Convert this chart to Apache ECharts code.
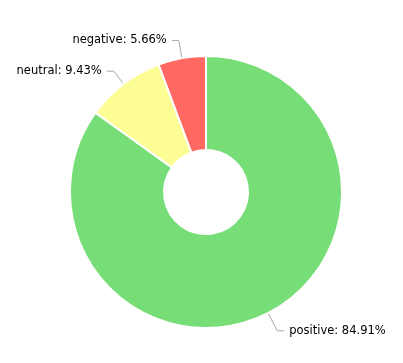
<!DOCTYPE html>
<html><head><meta charset="utf-8">
<script src="https://cdn.jsdelivr.net/npm/echarts@6/dist/echarts.min.js"></script>
<style>html,body{margin:0;padding:0;background:#fff}#c{width:403px;height:363px}</style>
</head><body><div id="c"></div>
<script>
const categories = ['positive', 'neutral', 'negative'];
const values = [45, 5, 3];
const colors = ['#77DD77', '#FDFD96', '#FF6961'];
const lineLengths = [20, 16, 18];
const chart = echarts.init(document.getElementById('c'));
chart.setOption({
  animation: false,
  series: [{
    type: 'pie',
    center: [206, 192],
    radius: [42, 136],
    startAngle: 90,
    clockwise: true,
    itemStyle: { borderColor: '#fff', borderWidth: 2 },
    label: {
      show: true,
      formatter: p => p.name + ': ' + p.percent.toFixed(2) + '%',
      color: '#000',
      fontFamily: 'DejaVu Sans',
      fontSize: 11.5
    },
    labelLine: { length: 20, length2: 7, lineStyle: { color: '#aaa', width: 1 } },
    percentPrecision: 2,
    data: categories.map((c, i) => ({
      name: c, value: values[i],
      itemStyle: { color: colors[i] },
      labelLine: { length: lineLengths[i], length2: 7 }
    }))
  }]
});
</script></body></html>
